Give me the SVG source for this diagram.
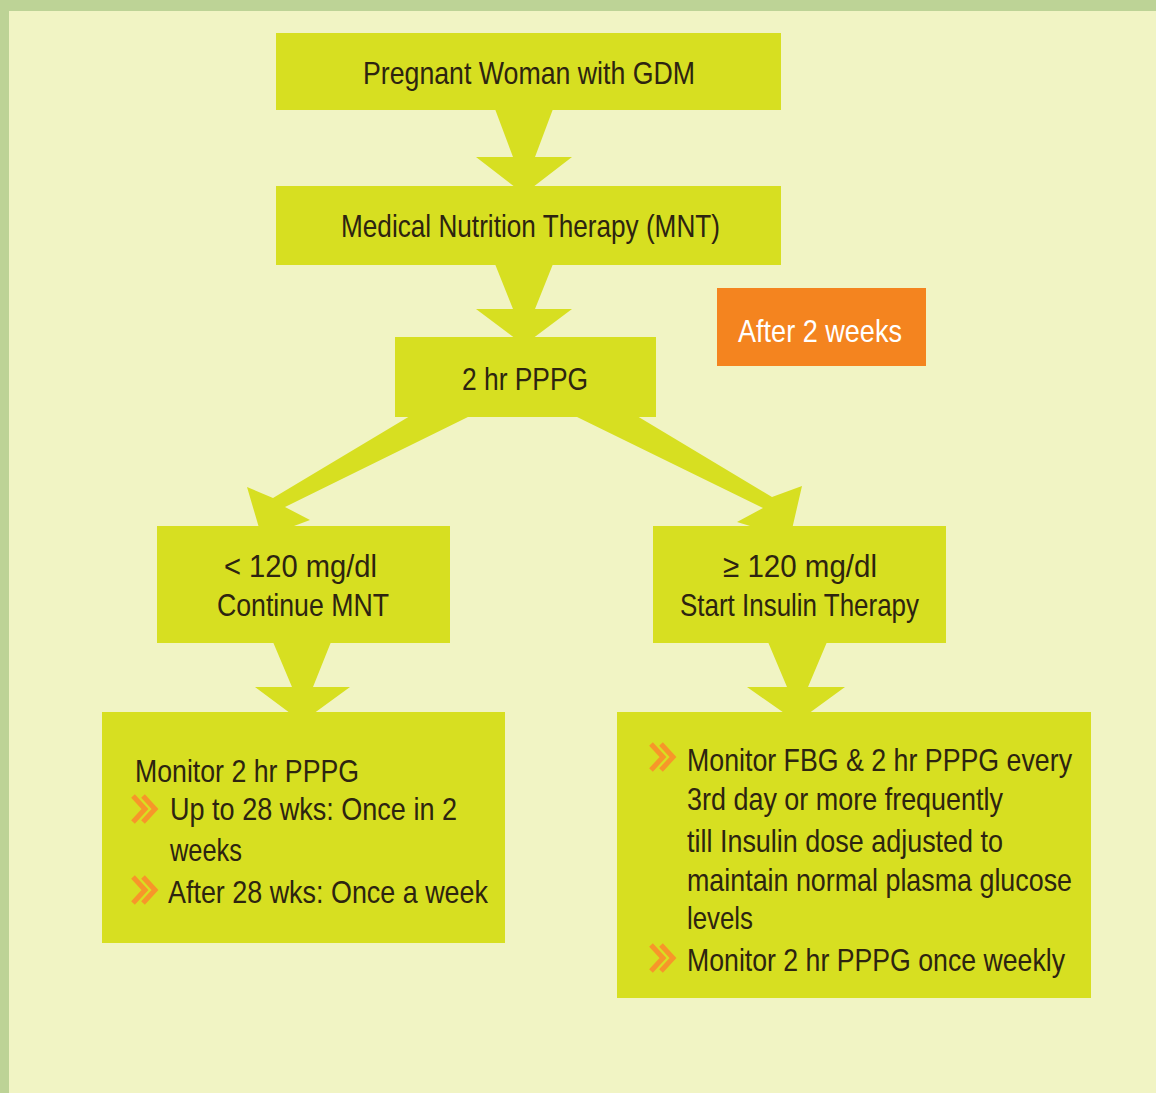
<svg xmlns="http://www.w3.org/2000/svg" xmlns:xlink="http://www.w3.org/1999/xlink" width="1156" height="1093" viewBox="0 0 1156 1093">
  <style>
    .box { fill: #d7df21; }
    .arrow { fill: #d7df21; }
    .t { font-family: "Liberation Sans", Arial, sans-serif; font-size: 32px; fill: #2d2410; }
    .c { text-anchor: start; }
    .w { fill: #ffffff; }
  </style>
  <defs>
    <g id="bullet">
      <path d="M0,0 L12,13 L0,26 M10,0 L22,13 L10,26" fill="none" stroke="#f7962a" stroke-width="5"/>
    </g>
  </defs>
  <rect x="0" y="0" width="1156" height="1093" fill="#f1f4c4"/>
  <rect x="0" y="0" width="1156" height="11" fill="#bdd396"/>
  <rect x="0" y="0" width="9" height="1093" fill="#bdd396"/>

  <g id="connectors">
    <polygon class="arrow" points="495,109 553,109 535,157 572,157 524,194 476,157 513,157"/>
    <polygon class="arrow" points="495,264 553,264 535,309 572,309 524,345 476,309 513,309"/>
    <polygon class="arrow" points="410,416 470,416 285,507 310,520 262,538 247,487 273,498"/>
    <polygon class="arrow" points="575,416 637,416 772,497 802,486 790,538 737,522 763,508"/>
    <polygon class="arrow" points="273,642 331,642 313,687 350,687 302,722 255,687 292,687"/>
    <polygon class="arrow" points="768,642 827,642 808,687 845,687 797,722 747,687 787,687"/>
  </g>

  <g id="node-start">
    <rect class="box" x="276" y="33" width="505" height="77"/>
    <text class="t" x="363" y="84" textLength="332" lengthAdjust="spacingAndGlyphs">Pregnant Woman with GDM</text>
  </g>
  <g id="node-mnt">
    <rect class="box" x="276" y="186" width="505" height="79"/>
    <text class="t" x="341" y="237" textLength="379" lengthAdjust="spacingAndGlyphs">Medical Nutrition Therapy (MNT)</text>
  </g>
  <g id="node-after">
    <rect x="717" y="288" width="209" height="78" fill="#f4841f"/>
    <text class="t w" x="738" y="342" textLength="164" lengthAdjust="spacingAndGlyphs">After 2 weeks</text>
  </g>
  <g id="node-pppg">
    <rect class="box" x="395" y="337" width="261" height="80"/>
    <text class="t" x="462" y="390" textLength="126" lengthAdjust="spacingAndGlyphs">2 hr PPPG</text>
  </g>
  <g id="node-low">
    <rect class="box" x="157" y="526" width="293" height="117"/>
    <text class="t" x="224" y="577" textLength="153" lengthAdjust="spacingAndGlyphs">&lt; 120 mg/dl</text>
    <text class="t" x="217" y="616" textLength="172" lengthAdjust="spacingAndGlyphs">Continue MNT</text>
  </g>
  <g id="node-high">
    <rect class="box" x="653" y="526" width="293" height="117"/>
    <text class="t" x="723" y="577" textLength="154" lengthAdjust="spacingAndGlyphs">≥ 120 mg/dl</text>
    <text class="t" x="680" y="616" textLength="239" lengthAdjust="spacingAndGlyphs">Start Insulin Therapy</text>
  </g>
  <g id="node-monitor-low">
    <rect class="box" x="102" y="712" width="403" height="231"/>
    <text class="t" x="135" y="782" textLength="224" lengthAdjust="spacingAndGlyphs">Monitor 2 hr PPPG</text>
    <use xlink:href="#bullet" x="133" y="796"/>
    <text class="t" x="170" y="820" textLength="287" lengthAdjust="spacingAndGlyphs">Up to 28 wks: Once in 2</text>
    <text class="t" x="170" y="861" textLength="72" lengthAdjust="spacingAndGlyphs">weeks</text>
    <use xlink:href="#bullet" x="133" y="877"/>
    <text class="t" x="168" y="903" textLength="320" lengthAdjust="spacingAndGlyphs">After 28 wks: Once a week</text>
  </g>
  <g id="node-monitor-high">
    <rect class="box" x="617" y="712" width="474" height="286"/>
    <use xlink:href="#bullet" x="651" y="744"/>
    <text class="t" x="687" y="771" textLength="385" lengthAdjust="spacingAndGlyphs">Monitor FBG &amp; 2 hr PPPG every</text>
    <text class="t" x="687" y="810" textLength="316" lengthAdjust="spacingAndGlyphs">3rd day or more frequently</text>
    <text class="t" x="687" y="852" textLength="316" lengthAdjust="spacingAndGlyphs">till Insulin dose adjusted to</text>
    <text class="t" x="687" y="891" textLength="385" lengthAdjust="spacingAndGlyphs">maintain normal plasma glucose</text>
    <text class="t" x="687" y="929" textLength="66" lengthAdjust="spacingAndGlyphs">levels</text>
    <use xlink:href="#bullet" x="651" y="945"/>
    <text class="t" x="687" y="971" textLength="378" lengthAdjust="spacingAndGlyphs">Monitor 2 hr PPPG once weekly</text>
  </g>
</svg>
